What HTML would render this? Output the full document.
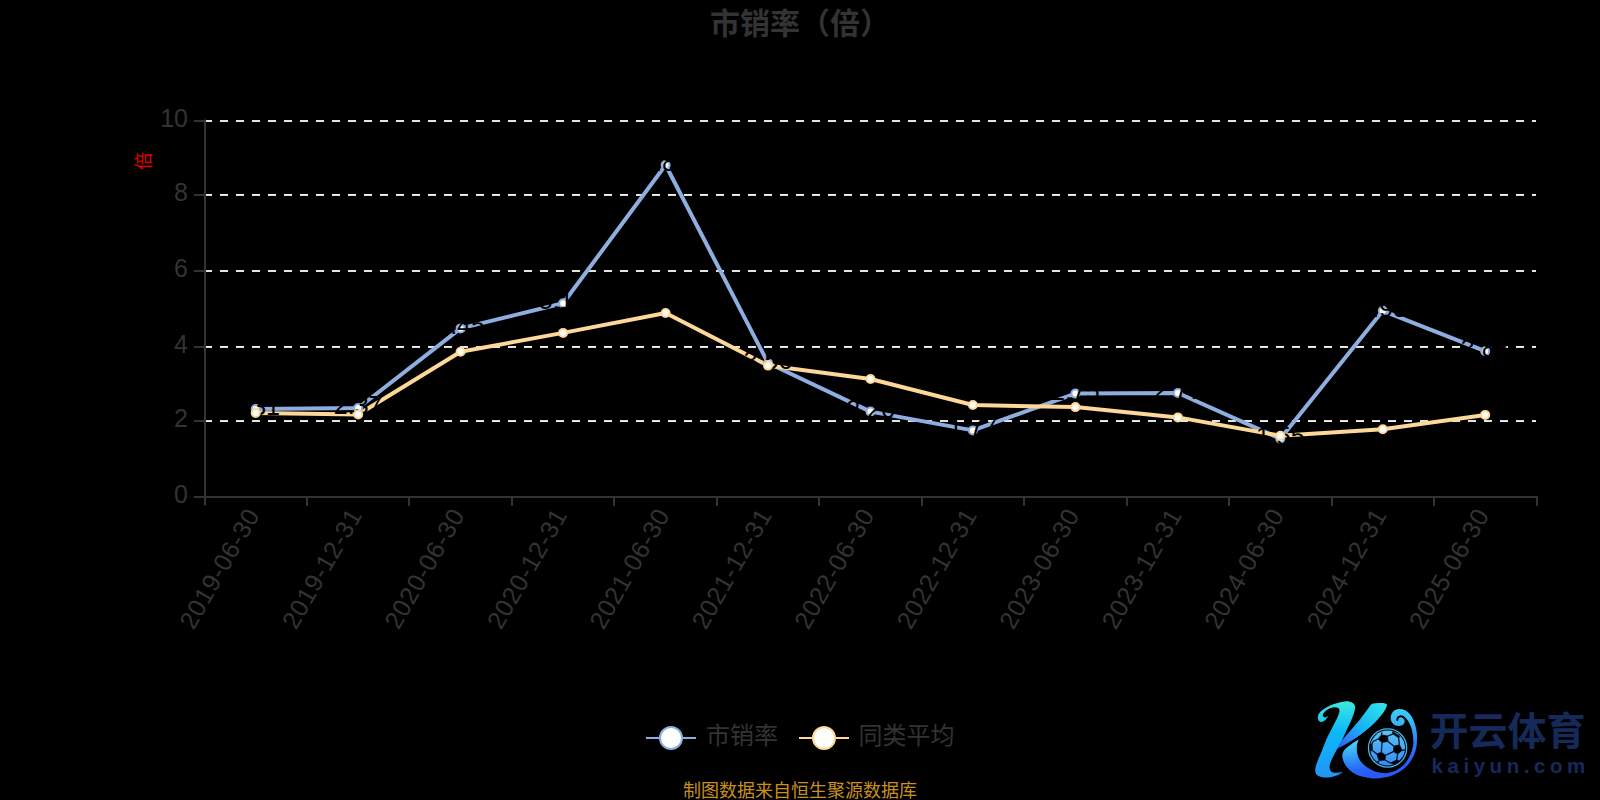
<!DOCTYPE html>
<html lang="zh"><head><meta charset="utf-8"><title>市销率（倍）</title>
<style>
html,body{margin:0;padding:0;background:#000;}
body{width:1600px;height:800px;overflow:hidden;}
svg{display:block;}
text{font-family:"Liberation Sans","Noto Sans CJK SC",sans-serif;}
.ax{font-size:25px;fill:#333;}
.lg{font-size:24px;fill:#333;}
.dl{font-size:25px;fill:#000;text-anchor:middle;}
</style></head><body>
<svg width="1600" height="800" viewBox="0 0 1600 800">
<rect width="1600" height="800" fill="#000"/>
<text x="800" y="34" text-anchor="middle" font-size="30" font-weight="bold" fill="#333">市销率（倍）</text>
<text transform="translate(150,161) rotate(-90)" text-anchor="middle" font-size="18" fill="#e60000">倍</text>
<line x1="204" x2="1536" y1="421" y2="421" stroke="#e2e2e2" stroke-width="2" stroke-dasharray="8 8"/>
<line x1="204" x2="1536" y1="347" y2="347" stroke="#e2e2e2" stroke-width="2" stroke-dasharray="8 8"/>
<line x1="204" x2="1536" y1="271" y2="271" stroke="#e2e2e2" stroke-width="2" stroke-dasharray="8 8"/>
<line x1="204" x2="1536" y1="195" y2="195" stroke="#e2e2e2" stroke-width="2" stroke-dasharray="8 8"/>
<line x1="204" x2="1536" y1="121" y2="121" stroke="#e2e2e2" stroke-width="2" stroke-dasharray="8 8"/>
<line x1="205" x2="205" y1="119.5" y2="505.5" stroke="#333" stroke-width="2"/>
<line x1="194" x2="1538" y1="497" y2="497" stroke="#333" stroke-width="2"/>
<line x1="194" x2="205" y1="421" y2="421" stroke="#333" stroke-width="2"/>
<line x1="194" x2="205" y1="347" y2="347" stroke="#333" stroke-width="2"/>
<line x1="194" x2="205" y1="271" y2="271" stroke="#333" stroke-width="2"/>
<line x1="194" x2="205" y1="195" y2="195" stroke="#333" stroke-width="2"/>
<line x1="194" x2="205" y1="121" y2="121" stroke="#333" stroke-width="2"/>
<line x1="307" x2="307" y1="497" y2="506" stroke="#333" stroke-width="2"/>
<line x1="409" x2="409" y1="497" y2="506" stroke="#333" stroke-width="2"/>
<line x1="512" x2="512" y1="497" y2="506" stroke="#333" stroke-width="2"/>
<line x1="614" x2="614" y1="497" y2="506" stroke="#333" stroke-width="2"/>
<line x1="717" x2="717" y1="497" y2="506" stroke="#333" stroke-width="2"/>
<line x1="819" x2="819" y1="497" y2="506" stroke="#333" stroke-width="2"/>
<line x1="922" x2="922" y1="497" y2="506" stroke="#333" stroke-width="2"/>
<line x1="1024" x2="1024" y1="497" y2="506" stroke="#333" stroke-width="2"/>
<line x1="1127" x2="1127" y1="497" y2="506" stroke="#333" stroke-width="2"/>
<line x1="1229" x2="1229" y1="497" y2="506" stroke="#333" stroke-width="2"/>
<line x1="1332" x2="1332" y1="497" y2="506" stroke="#333" stroke-width="2"/>
<line x1="1434" x2="1434" y1="497" y2="506" stroke="#333" stroke-width="2"/>
<line x1="1537" x2="1537" y1="497" y2="506" stroke="#333" stroke-width="2"/>
<text class="ax" x="188" y="502.6" text-anchor="end">0</text>
<text class="ax" x="188" y="426.6" text-anchor="end">2</text>
<text class="ax" x="188" y="352.6" text-anchor="end">4</text>
<text class="ax" x="188" y="276.6" text-anchor="end">6</text>
<text class="ax" x="188" y="200.6" text-anchor="end">8</text>
<text class="ax" x="188" y="126.6" text-anchor="end">10</text>
<text class="ax" transform="translate(260.5,514.8) rotate(-60)" text-anchor="end" letter-spacing="0.6">2019-06-30</text>
<text class="ax" transform="translate(363.0,514.8) rotate(-60)" text-anchor="end" letter-spacing="0.6">2019-12-31</text>
<text class="ax" transform="translate(465.4,514.8) rotate(-60)" text-anchor="end" letter-spacing="0.6">2020-06-30</text>
<text class="ax" transform="translate(567.9,514.8) rotate(-60)" text-anchor="end" letter-spacing="0.6">2020-12-31</text>
<text class="ax" transform="translate(670.4,514.8) rotate(-60)" text-anchor="end" letter-spacing="0.6">2021-06-30</text>
<text class="ax" transform="translate(772.8,514.8) rotate(-60)" text-anchor="end" letter-spacing="0.6">2021-12-31</text>
<text class="ax" transform="translate(875.3,514.8) rotate(-60)" text-anchor="end" letter-spacing="0.6">2022-06-30</text>
<text class="ax" transform="translate(977.7,514.8) rotate(-60)" text-anchor="end" letter-spacing="0.6">2022-12-31</text>
<text class="ax" transform="translate(1080.2,514.8) rotate(-60)" text-anchor="end" letter-spacing="0.6">2023-06-30</text>
<text class="ax" transform="translate(1182.7,514.8) rotate(-60)" text-anchor="end" letter-spacing="0.6">2023-12-31</text>
<text class="ax" transform="translate(1285.1,514.8) rotate(-60)" text-anchor="end" letter-spacing="0.6">2024-06-30</text>
<text class="ax" transform="translate(1387.6,514.8) rotate(-60)" text-anchor="end" letter-spacing="0.6">2024-12-31</text>
<text class="ax" transform="translate(1490.0,514.8) rotate(-60)" text-anchor="end" letter-spacing="0.6">2025-06-30</text>
<polyline points="255.7,409.0 358.2,408.0 460.6,328.4 563.1,303.3 665.6,165.0 768.0,363.0 870.5,411.6 972.9,430.4 1075.4,393.6 1177.9,393.0 1280.3,438.7 1382.8,310.8 1485.2,351.2" fill="none" stroke="#8eaee0" stroke-width="4" stroke-linejoin="bevel"/>
<polyline points="255.7,413.0 358.2,414.5 460.6,351.8 563.1,332.9 665.6,313.0 768.0,365.6 870.5,379.0 972.9,405.0 1075.4,407.1 1177.9,417.4 1280.3,435.7 1382.8,429.2 1485.2,414.9" fill="none" stroke="#fdd898" stroke-width="4" stroke-linejoin="bevel"/>
<circle cx="255.7" cy="409.0" r="4" fill="#fff" stroke="#8eaee0" stroke-width="2"/>
<circle cx="358.2" cy="408.0" r="4" fill="#fff" stroke="#8eaee0" stroke-width="2"/>
<circle cx="460.6" cy="328.4" r="4" fill="#fff" stroke="#8eaee0" stroke-width="2"/>
<circle cx="563.1" cy="303.3" r="4" fill="#fff" stroke="#8eaee0" stroke-width="2"/>
<circle cx="665.6" cy="165.0" r="4" fill="#fff" stroke="#8eaee0" stroke-width="2"/>
<circle cx="768.0" cy="363.0" r="4" fill="#fff" stroke="#8eaee0" stroke-width="2"/>
<circle cx="870.5" cy="411.6" r="4" fill="#fff" stroke="#8eaee0" stroke-width="2"/>
<circle cx="972.9" cy="430.4" r="4" fill="#fff" stroke="#8eaee0" stroke-width="2"/>
<circle cx="1075.4" cy="393.6" r="4" fill="#fff" stroke="#8eaee0" stroke-width="2"/>
<circle cx="1177.9" cy="393.0" r="4" fill="#fff" stroke="#8eaee0" stroke-width="2"/>
<circle cx="1280.3" cy="438.7" r="4" fill="#fff" stroke="#8eaee0" stroke-width="2"/>
<circle cx="1382.8" cy="310.8" r="4" fill="#fff" stroke="#8eaee0" stroke-width="2"/>
<circle cx="1485.2" cy="351.2" r="4" fill="#fff" stroke="#8eaee0" stroke-width="2"/>
<text class="dl" x="255.7" y="415.0">2.31</text>
<text class="dl" x="358.2" y="414.0">2.37</text>
<text class="dl" x="460.6" y="334.4">4.45</text>
<text class="dl" x="563.1" y="309.3">5.15</text>
<text class="dl" x="665.6" y="171.0">8.83</text>
<text class="dl" x="768.0" y="369.0">3.56</text>
<text class="dl" x="870.5" y="417.6">2.26</text>
<text class="dl" x="972.9" y="436.4">1.77</text>
<text class="dl" x="1075.4" y="399.6">2.75</text>
<text class="dl" x="1177.9" y="399.0">2.77</text>
<text class="dl" x="1280.3" y="444.7">1.55</text>
<text class="dl" x="1382.8" y="316.8">4.95</text>
<text class="dl" x="1485.2" y="357.2">3.88</text>
<circle cx="255.7" cy="413.0" r="4" fill="#fff" stroke="#fdd898" stroke-width="2"/>
<circle cx="358.2" cy="414.5" r="4" fill="#fff" stroke="#fdd898" stroke-width="2"/>
<circle cx="460.6" cy="351.8" r="4" fill="#fff" stroke="#fdd898" stroke-width="2"/>
<circle cx="563.1" cy="332.9" r="4" fill="#fff" stroke="#fdd898" stroke-width="2"/>
<circle cx="665.6" cy="313.0" r="4" fill="#fff" stroke="#fdd898" stroke-width="2"/>
<circle cx="768.0" cy="365.6" r="4" fill="#fff" stroke="#fdd898" stroke-width="2"/>
<circle cx="870.5" cy="379.0" r="4" fill="#fff" stroke="#fdd898" stroke-width="2"/>
<circle cx="972.9" cy="405.0" r="4" fill="#fff" stroke="#fdd898" stroke-width="2"/>
<circle cx="1075.4" cy="407.1" r="4" fill="#fff" stroke="#fdd898" stroke-width="2"/>
<circle cx="1177.9" cy="417.4" r="4" fill="#fff" stroke="#fdd898" stroke-width="2"/>
<circle cx="1280.3" cy="435.7" r="4" fill="#fff" stroke="#fdd898" stroke-width="2"/>
<circle cx="1382.8" cy="429.2" r="4" fill="#fff" stroke="#fdd898" stroke-width="2"/>
<circle cx="1485.2" cy="414.9" r="4" fill="#fff" stroke="#fdd898" stroke-width="2"/>
<line x1="646" x2="696" y1="738" y2="738" stroke="#8eaee0" stroke-width="2"/>
<circle cx="671" cy="738" r="11" fill="#fff" stroke="#8eaee0" stroke-width="2"/>
<text class="lg" x="706" y="744">市销率</text>
<line x1="799" x2="849" y1="738" y2="738" stroke="#fdd898" stroke-width="2"/>
<circle cx="824" cy="738" r="11" fill="#fff" stroke="#fdd898" stroke-width="2"/>
<text class="lg" x="858.5" y="744">同类平均</text>
<text x="800" y="797" text-anchor="middle" font-size="18" fill="#c8901e">制图数据来自恒生聚源数据库</text>
<defs>
<linearGradient id="gS" gradientUnits="userSpaceOnUse" x1="0" y1="701" x2="0" y2="778"><stop offset="0" stop-color="#3eeadc"/><stop offset="0.4" stop-color="#0cb8f8"/><stop offset="1" stop-color="#2294f6"/></linearGradient>
<linearGradient id="gA" gradientUnits="userSpaceOnUse" x1="1380" y1="703" x2="1345" y2="750"><stop offset="0" stop-color="#2ee2ea"/><stop offset="0.55" stop-color="#18b0f6"/><stop offset="0.8" stop-color="#2c84f8"/><stop offset="1" stop-color="#2a62f8"/></linearGradient>
<linearGradient id="gL" gradientUnits="userSpaceOnUse" x1="0" y1="708" x2="0" y2="779"><stop offset="0" stop-color="#3cd0f8"/><stop offset="0.2" stop-color="#38b8f8"/><stop offset="0.38" stop-color="#3090f8"/><stop offset="0.56" stop-color="#2a74f8"/><stop offset="0.74" stop-color="#2860f8"/><stop offset="1" stop-color="#2858f8"/></linearGradient>
<linearGradient id="gB" gradientUnits="userSpaceOnUse" x1="0" y1="729" x2="0" y2="767"><stop offset="0" stop-color="#58c8f8"/><stop offset="1" stop-color="#3488f4"/></linearGradient>
<linearGradient id="gL2" gradientUnits="userSpaceOnUse" x1="0" y1="739" x2="0" y2="778"><stop offset="0" stop-color="#4ce0f8"/><stop offset="0.28" stop-color="#3cb8f8"/><stop offset="0.55" stop-color="#3090f8"/><stop offset="0.8" stop-color="#2868f8"/><stop offset="1" stop-color="#2858f8"/></linearGradient>
<linearGradient id="gM" gradientUnits="userSpaceOnUse" x1="1354" y1="0" x2="1376" y2="0"><stop offset="0" stop-color="#fff"/><stop offset="1" stop-color="#000"/></linearGradient>
<mask id="mLeg" maskUnits="userSpaceOnUse" x="1336" y="734" width="44" height="48"><rect x="1336" y="734" width="44" height="48" fill="url(#gM)"/></mask>
<path id="swoosh" d="M1359.1,739.3 C1357.8,740.2 1353.5,742.9 1351.2,744.5 C1348.9,746.1 1346.7,747.5 1345.3,749.1 C1343.9,750.7 1342.9,752.2 1342.6,754.1 C1342.3,756.0 1342.6,758.5 1343.4,760.8 C1344.2,763.0 1345.5,765.5 1347.3,767.6 C1349.1,769.7 1351.6,771.7 1354.1,773.2 C1356.6,774.7 1359.7,775.8 1362.5,776.6 C1365.3,777.4 1368.1,777.9 1370.9,778.2 C1373.7,778.5 1376.6,778.4 1379.4,778.2 C1382.2,778.0 1385.5,777.3 1387.8,776.8 C1390.1,776.2 1391.5,775.7 1393.4,774.9 C1395.3,774.1 1397.2,773.2 1399.1,772.1 C1401.0,771.0 1402.9,769.7 1404.7,768.1 C1406.5,766.5 1408.3,764.4 1409.7,762.5 C1411.1,760.6 1412.1,758.8 1413.1,756.9 C1414.0,755.0 1414.8,753.1 1415.4,751.2 C1416.0,749.3 1416.3,747.8 1416.6,745.6 C1416.9,743.4 1417.0,739.3 1417.1,738.0 C1417.1,736.3 1417,734.6 1416.8,732.9 C1416.3,729 1415.4,725.2 1414,721.6 C1413,718.7 1411.5,716 1409.5,713.7 C1407,710.8 1403.4,709.1 1399.4,709 C1394.4,708.9 1390.9,712.8 1390.7,717.7 C1390.5,722.5 1394.2,726.2 1398.8,726.1 C1401.4,726 1403.6,724.8 1404.4,722.7 C1405.1,720.8 1404.4,718.8 1402.7,717.7 C1401.7,717 1400.5,716.6 1399.4,716.6 C1400.8,715.9 1402,716 1402.7,716.6 C1405.2,717.6 1407,719.5 1408.4,721.6 C1410.4,724.7 1411.6,728.2 1412.3,731.7 C1413,735.4 1413.5,739.2 1413.4,743 C1413.4,743.4 1413.4,744.2 1413.1,745.6 C1412.8,747.0 1412.3,749.3 1411.7,751.2 C1411.1,753.1 1410.2,755.0 1409.2,756.9 C1408.2,758.8 1407.1,760.8 1405.8,762.5 C1404.5,764.2 1402.9,765.7 1401.3,767.0 C1399.7,768.3 1398.0,769.5 1396.2,770.4 C1394.4,771.3 1392.5,771.8 1390.6,772.3 C1388.7,772.8 1386.9,773.2 1385.0,773.2 C1383.1,773.2 1381.3,773.0 1379.4,772.6 C1377.5,772.2 1375.6,771.6 1373.7,770.9 C1371.8,770.1 1370.0,769.3 1368.1,768.1 C1366.2,766.9 1364.1,765.3 1362.5,763.6 C1360.9,761.9 1359.5,760.1 1358.6,758.0 C1357.7,755.9 1357.2,753.3 1356.9,751.2 C1356.6,749.1 1356.7,747.3 1356.9,745.6 C1357.1,743.9 1357.6,742.2 1358.0,741.1 C1358.4,740.0 1358.9,739.6 1359.1,739.3 Z"/>
</defs>
<g id="logo">
<path fill="url(#gS)" d="M1328.8,714.9 C1327,718.6 1324.6,721.6 1321.8,721.9 C1319,722.1 1317.4,719.6 1317.9,716.6 C1318.4,713.9 1319.8,712.1 1321.2,710.9 C1325,707.4 1335,702.4 1344.9,701.4 C1351.5,700.8 1356.2,704 1355,709.2 C1354.2,712.8 1353,716 1351.6,719.4 L1344.9,734 L1340.9,742.4 L1337,749.2 L1332.5,757.7 C1330.5,762 1329,765.5 1329.7,768.4 C1330.2,770.6 1331.2,771.8 1332.5,772.3 C1335.5,773.3 1339.5,772.8 1343.2,771.7 C1340.5,773.8 1337,775.5 1335,776 C1331,777.3 1327.5,777.8 1324.1,777.4 C1320,776.9 1317.2,776 1316.2,774 C1315,771.8 1315,769.8 1315.6,767.2 C1316.8,762.5 1319,757.5 1321.2,752.6 L1326.9,738 L1332.5,727.2 C1335.5,721.5 1338.2,716.5 1339.2,712.6 C1339.8,710.2 1339.4,708.7 1338.1,708.1 C1336.8,707.4 1335.2,707.1 1333.6,707.3 C1330,707.8 1326.3,709.9 1324.6,712.1 C1323.5,713.4 1322.7,714.4 1322.9,715.4 C1323.1,716.7 1324.1,717.5 1325.2,717.4 C1326.4,717.2 1327.6,716.2 1328.8,714.9 Z"/>
<path fill="url(#gA)" d="M1340.2,742.6 L1360,719.4 L1369.6,706.4 C1370.6,705 1371.6,704 1372.9,703.6 C1376,702.8 1379.5,702.8 1382.5,703.1 C1385,703.4 1387.4,703.8 1387,705.3 C1386,708.5 1384.5,711.2 1382.5,713.7 C1379,718.2 1375.2,722.4 1371.2,726.1 C1367.6,729.4 1363.8,732.6 1359.6,735.6 C1352,740.8 1344.5,745 1336.9,749.1 Z"/>
<use href="#swoosh" fill="url(#gL)"/>
<use href="#swoosh" fill="url(#gL2)" mask="url(#mLeg)"/>
<path fill="none" stroke="#000" stroke-width="1.9" stroke-linecap="round" d="M1397.3,720 C1397.2,718.2 1398.3,716.8 1400,716.4 C1402,716 1404,717.2 1405.4,719 C1406.4,720.3 1407,721.8 1407.4,723.4"/>
<circle cx="1387.6" cy="748" r="19.1" fill="none" stroke="#40b8f4" stroke-width="1.3"/>
<circle cx="1387.6" cy="748" r="17.5" fill="url(#gB)"/>
<g fill="#000" stroke="#000" stroke-width="0.7" stroke-linejoin="round">
<polygon points="1381.4,734.8 1387.7,736.0 1388.0,741.4 1382.0,742.6 1378.1,739.0"/>
<polygon points="1394.0,746.2 1399.4,744.7 1402.1,750.4 1397.6,754.0 1393.4,751.6"/>
<polygon points="1376.9,754.0 1381.4,752.2 1385.6,755.2 1385.0,760.0 1379.0,760.6"/>
<polygon points="1392.8,731.7 1399.5,736.0 1398.9,737.9 1393.3,734.2"/>
<polygon points="1390.4,763.0 1396.7,760.0 1400.1,761.2 1394.0,764.3"/>
<polygon points="1369.9,744.4 1372.1,743.8 1372.4,750.4 1370.5,751.1"/>
</g>
<g fill="none" stroke="#020c1e" stroke-width="1.25">
<path d="M1387.7,736.0 L1392.8,734.1 M1388.0,741.5 L1394.0,746.2 M1398.5,737.7 L1399.4,744.7 M1402.1,750.4 L1405.4,749.9 M1397.6,754.0 L1396.7,760.0 M1385.6,755.2 L1393.4,751.6 M1378.1,739.0 L1373.0,741.5 M1382.0,742.6 L1381.4,752.2 M1376.9,754.0 L1372.4,750.4 M1379.0,760.6 L1377.5,762.5 M1385.0,760.0 L1390.4,763.0 M1381.4,734.8 L1382.0,732.3 M1392.8,734.1 L1393.3,731.7 M1398.9,737.9 L1398.5,737.7 M1400.1,761.2 L1402.4,757.6 M1373.0,741.5 L1372.1,743.8 "/>
</g>
<text x="1429.5" y="745" font-size="39" font-weight="bold" fill="#16295b" style="font-family:'Liberation Sans','Noto Sans CJK SC',sans-serif">开云体育</text>
<text x="1431.5" y="773" font-size="20.5" font-weight="bold" fill="#16295b" letter-spacing="4.55" style="font-family:'Liberation Sans',sans-serif">kaiyun.com</text>
</g>

</svg></body></html>
